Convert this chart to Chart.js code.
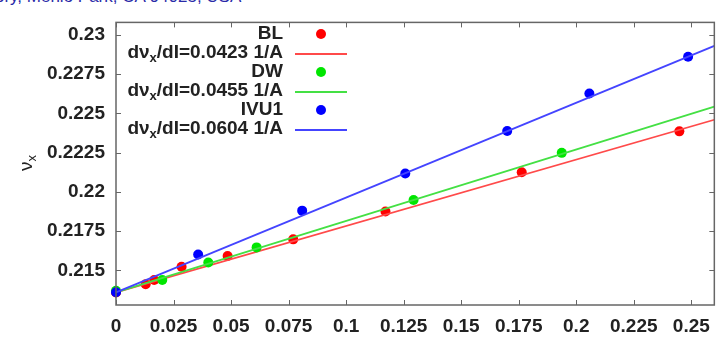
<!DOCTYPE html>
<html>
<head>
<meta charset="utf-8">
<script src="https://cdn.jsdelivr.net/npm/chart.js@4"></script>
<style>
  html, body { margin: 0; padding: 0; background: #fff; }
  #wrap { position: relative; width: 720px; height: 337px; overflow: hidden; }
  #header {
    position: absolute; left: -5px; top: -13px;
    font: 17px "Liberation Sans", Arial, sans-serif; color: #2a2aa8;
    white-space: nowrap;
  }
  canvas { position: absolute; left: 0; top: 0; }
</style>
</head>
<body>
<div id="wrap">
  <div id="header">ory, Menlo Park, CA 94025, USA</div>
  <canvas id="chart" width="720" height="337"></canvas>
</div>
<script>
// values
const seriesNames = ["BL", "DW", "IVU1"];
const slopes = ["0.0423", "0.0455", "0.0604"];
const colors = ["#ff0000", "#00e600", "#0000ff"];
const lineColors = ["#ff4a4a", "#44e044", "#4444ff"];

const blX = [0, 0.0129, 0.0166, 0.0285, 0.0485, 0.0770, 0.1171, 0.1763, 0.2448];
const blY = [0.2136, 0.21412, 0.21439, 0.21524, 0.21592, 0.21698, 0.21875, 0.22126, 0.22386];
const dwX = [0, 0.0201, 0.0401, 0.0611, 0.1293, 0.1937];
const dwY = [0.21371, 0.21439, 0.21551, 0.21647, 0.21949, 0.22249];
const ivuX = [0, 0.0357, 0.0809, 0.1257, 0.1700, 0.2057, 0.2486];
const ivuY = [0.21361, 0.21602, 0.21881, 0.22118, 0.22388, 0.22627, 0.22861];

// fit lines, ends at x = 0 and x = 0.26
const fitX = [0, 0.26];
const fitBL = [0.2136, 0.2246];
const fitDW = [0.2136, 0.22543];
const fitIVU = [0.2136, 0.2293];

const xTicks = [0, 0.025, 0.05, 0.075, 0.1, 0.125, 0.15, 0.175, 0.2, 0.225, 0.25];
const xTickLabels = ["0", "0.025", "0.05", "0.075", "0.1", "0.125", "0.15", "0.175", "0.2", "0.225", "0.25"];
const yTicks = [0.215, 0.2175, 0.22, 0.2225, 0.225, 0.2275, 0.23];
const yTickLabels = ["0.215", "0.2175", "0.22", "0.2225", "0.225", "0.2275", "0.23"];

const FONT = '"Liberation Sans", Arial, sans-serif';
const pts = (xs, ys) => xs.map((x, i) => ({ x, y: ys[i] }));

const pointSets = [pts(blX, blY), pts(dwX, dwY), pts(ivuX, ivuY)];
const fitSets = [pts(fitX, fitBL), pts(fitX, fitDW), pts(fitX, fitIVU)];

const datasets = [];
for (let i = 0; i < 3; i++) {
  datasets.push({
    type: "scatter",
    label: seriesNames[i],
    data: pointSets[i],
    backgroundColor: colors[i],
    borderWidth: 0,
    pointRadius: 5,
    clip: false,
    order: 10 - i * 2,
  });
  datasets.push({
    type: "line",
    label: "fit " + seriesNames[i],
    data: fitSets[i],
    borderColor: lineColors[i],
    borderWidth: 1.8,
    pointRadius: 0,
    fill: false,
    clip: false,
    order: 9 - i * 2,
  });
}

// box, inward ticks, legend and y title
const decor = {
  id: "decor",
  afterDraw(chart) {
    const { ctx, chartArea: a } = chart;
    const xs = chart.scales.x, ys = chart.scales.y;
    ctx.save();
    ctx.strokeStyle = "#666";
    ctx.lineWidth = 1.5;
    ctx.strokeRect(a.left, a.top, a.right - a.left, a.bottom - a.top);
    ctx.lineWidth = 1;
    ctx.beginPath();
    xTicks.forEach((v) => {
      const px = Math.round(xs.getPixelForValue(v)) + 0.5;
      ctx.moveTo(px, a.bottom); ctx.lineTo(px, a.bottom - 5);
      ctx.moveTo(px, a.top); ctx.lineTo(px, a.top + 5);
    });
    yTicks.forEach((v) => {
      const py = Math.round(ys.getPixelForValue(v)) + 0.5;
      ctx.moveTo(a.left, py); ctx.lineTo(a.left + 5, py);
      ctx.moveTo(a.right, py); ctx.lineTo(a.right - 5, py);
    });
    ctx.stroke();

    // legend
    const right = 283, rowH = 19, top = 34;
    ctx.fillStyle = "#222";
    ctx.textBaseline = "middle";
    for (let i = 0; i < 3; i++) {
      const y1 = top + i * 2 * rowH;
      const y2 = y1 + rowH;
      ctx.font = "bold 19px " + FONT;
      ctx.textAlign = "right";
      ctx.fillText(seriesNames[i], right, y1);
      ctx.beginPath();
      ctx.fillStyle = colors[i];
      ctx.arc(321, y1, 5, 0, Math.PI * 2);
      ctx.fill();
      ctx.fillStyle = "#222";

      const partA = "d\u03bd", partB = "x", partC = "/dI=" + slopes[i] + " 1/A";
      ctx.font = "bold 19px " + FONT;
      const wA = ctx.measureText(partA).width, wC = ctx.measureText(partC).width;
      ctx.font = "bold 13px " + FONT;
      const wB = ctx.measureText(partB).width;
      const x0 = right - (wA + wB + wC);
      ctx.textAlign = "left";
      ctx.font = "bold 19px " + FONT;
      ctx.fillText(partA, x0, y2);
      ctx.font = "bold 13px " + FONT;
      ctx.fillText(partB, x0 + wA, y2 + 5);
      ctx.font = "bold 19px " + FONT;
      ctx.fillText(partC, x0 + wA + wB, y2);

      ctx.strokeStyle = lineColors[i];
      ctx.lineWidth = 1.8;
      ctx.beginPath();
      ctx.moveTo(295, y2 + 1); ctx.lineTo(347, y2 + 1);
      ctx.stroke();
    }

    // y axis title
    ctx.translate(27, 162);
    ctx.rotate(-Math.PI / 2);
    ctx.textAlign = "left";
    ctx.fillStyle = "#222";
    ctx.font = "19px " + FONT;
    const wN = ctx.measureText("\u03bd").width;
    ctx.fillText("\u03bd", -9, 0);
    ctx.font = "13px " + FONT;
    ctx.fillText("x", -9 + wN, 5);
    ctx.restore();
  },
};

new Chart(document.getElementById("chart"), {
  type: "scatter",
  data: { datasets },
  options: {
    responsive: false,
    animation: false,
    layout: { padding: { top: 11, right: 5, left: 0, bottom: 0 } },
    plugins: { legend: { display: false }, tooltip: { enabled: false } },
    scales: {
      x: {
        type: "linear",
        min: 0,
        max: 0.26,
        afterBuildTicks: (s) => { s.ticks = xTicks.map((v) => ({ value: v })); },
        afterFit: (s) => { s.height = 32; },
        grid: { display: false, drawTicks: false },
        border: { display: false },
        ticks: {
          padding: 10,
          color: "#222",
          font: { family: FONT, size: 19, weight: "bold" },
          maxRotation: 0,
          autoSkip: false,
          callback: (v) => { const k = xTicks.indexOf(v); return k >= 0 ? xTickLabels[k] : ""; },
        },
      },
      y: {
        type: "linear",
        min: 0.2128,
        max: 0.2308,
        afterBuildTicks: (s) => { s.ticks = yTicks.map((v) => ({ value: v })); },
        afterFit: (s) => { s.width = 116; },
        grid: { display: false, drawTicks: false },
        border: { display: false },
        ticks: {
          padding: 11,
          color: "#222",
          font: { family: FONT, size: 19, weight: "bold" },
          autoSkip: false,
          callback: (v) => { const k = yTicks.indexOf(v); return k >= 0 ? yTickLabels[k] : ""; },
        },
      },
    },
  },
  plugins: [decor],
});
</script>
</body>
</html>
